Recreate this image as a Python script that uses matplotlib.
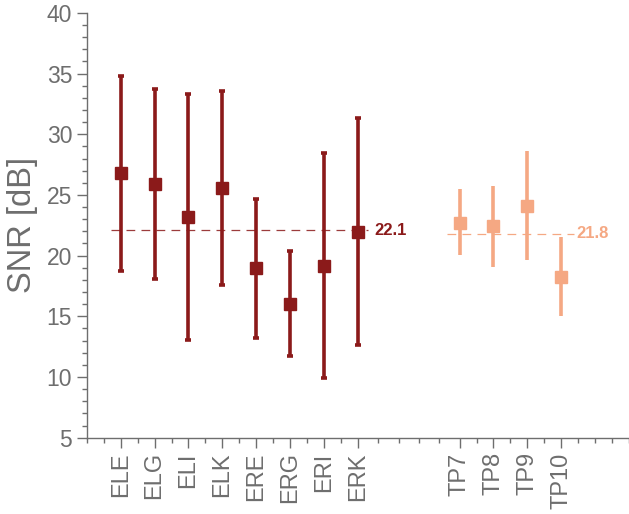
import matplotlib
matplotlib.use("Agg")
import matplotlib.pyplot as plt
import numpy as np

plt.rcParams['font.family'] = ['Liberation Sans', 'DejaVu Sans']

# Data
ear_labels = ["ELE", "ELG", "ELI", "ELK", "ERE", "ERG", "ERI", "ERK"]
ear_pos = [1, 2, 3, 4, 5, 6, 7, 8]
ear_mean = [26.8, 25.9, 23.15, 25.55, 18.95, 16.05, 19.15, 21.95]
ear_low = [18.75, 18.1, 13.05, 17.6, 13.25, 11.7, 9.9, 12.6]
ear_high = [34.8, 33.7, 33.3, 33.55, 24.65, 20.4, 28.45, 31.35]
ear_avg = 22.1

scalp_labels = ["TP7", "TP8", "TP9", "TP10"]
scalp_pos = [11, 12, 13, 14]
scalp_mean = [22.7, 22.4, 24.1, 18.25]
scalp_low = [20.05, 19.1, 19.65, 15.05]
scalp_high = [25.45, 25.75, 28.65, 21.55]
scalp_avg = 21.8

minor_x = [0, 0.5, 1.5, 2.5, 3.5, 4.5, 5.5, 6.5, 7.5, 8.6, 9.2, 9.8, 10.4,
           11.5, 12.5, 13.5, 14.5, 15, 15.5, 16]

dark = '#8b1a1a'
light = '#f5a883'
gray = '#6e6e6e'

fig = plt.figure(figsize=(6.29, 5.14), dpi=100)
ax = fig.add_axes([0.138, 0.1485, 0.862, 0.8265])

ax.errorbar(ear_pos, ear_mean,
            yerr=[np.array(ear_mean) - np.array(ear_low), np.array(ear_high) - np.array(ear_mean)],
            fmt='s', color=dark, ms=9, elinewidth=2.6, capsize=2.2, capthick=2.6, zorder=3)
ax.errorbar(scalp_pos, scalp_mean,
            yerr=[np.array(scalp_mean) - np.array(scalp_low), np.array(scalp_high) - np.array(scalp_mean)],
            fmt='s', color=light, ms=9, elinewidth=2.6, capsize=0, zorder=3)

ax.plot([0.7, 8.3], [ear_avg, ear_avg], ls=(0, (7, 5)), color=dark, lw=0.9, alpha=0.85, zorder=2)
ax.text(8.5, ear_avg, f"{ear_avg}", color=dark, fontsize=12, fontweight='bold', va='center', ha='left')
ax.plot([10.62, 14.38], [scalp_avg, scalp_avg], ls=(0, (7, 5)), color=light, lw=0.9, zorder=2)
ax.text(14.45, scalp_avg, f"{scalp_avg}", color=light, fontsize=12, fontweight='bold', va='center', ha='left')

ax.set_xlim(0, 16)
ax.set_ylim(5, 40)
ax.set_xticks(ear_pos + scalp_pos)
ax.set_xticklabels(ear_labels + scalp_labels, rotation=90)
ax.set_xticks(minor_x, minor=True)
ax.set_yticks(np.arange(5, 41, 5))
ax.set_yticks(np.arange(5, 41, 1), minor=True)

for s in ['top', 'right']:
    ax.spines[s].set_visible(False)
for s in ['left', 'bottom']:
    ax.spines[s].set_color(gray)
    ax.spines[s].set_linewidth(1.0)

ax.tick_params(which='major', length=7, width=1, color=gray, labelcolor=gray, labelsize=16.5)
ax.tick_params(which='minor', length=3.5, width=1, color=gray)
ax.tick_params(axis='x', which='major', labelsize=17)
ax.set_ylabel("SNR [dB]", fontsize=23.5, color=gray, labelpad=6)

fig.savefig("out.png", dpi=100)
